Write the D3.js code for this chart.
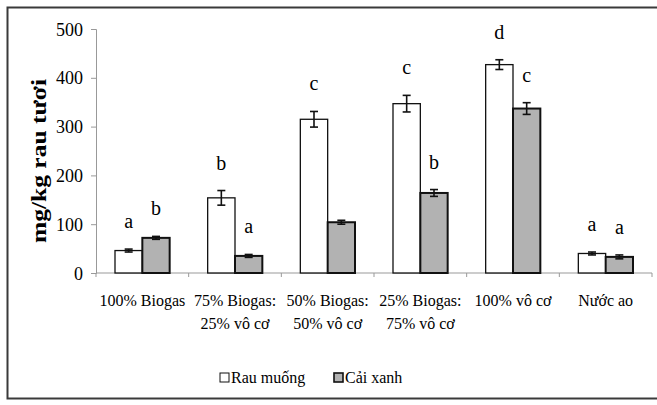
<!DOCTYPE html>
<html>
<head>
<meta charset="utf-8">
<script src="https://cdn.jsdelivr.net/npm/d3@7"></script>
<style>
  body { margin: 0; background: #fff; }
  svg text { font-family: "Liberation Serif", "Times New Roman", serif; fill: #000; }
</style>
</head>
<body>
<div id="chart"></div>
<script>
const categories = [
  ["100% Biogas"],
  ["75% Biogas:", "25% vô cơ"],
  ["50% Biogas:", "50% vô cơ"],
  ["25% Biogas:", "75% vô cơ"],
  ["100% vô cơ"],
  ["Nước ao"]
];
const series = ["Rau muống", "Cải xanh"];
const rauMuong = [46, 154, 315, 347, 427, 40];
const rauMuongErr = [3, 15, 16, 17, 10, 3];
const caiXanh = [72, 35, 104, 164, 337, 33];
const caiXanhErr = [3, 3, 4, 7, 12, 4];
const rauMuongLetters = ["a", "b", "c", "c", "d", "a"];
const caiXanhLetters = ["b", "a", "", "b", "c", "a"];
const yTicks = [0, 100, 200, 300, 400, 500];

const width = 657;
const height = 405;
const svg = d3.select("#chart")
  .append("svg")
  .attr("width", width)
  .attr("height", height)
  .attr("font-family", "Liberation Serif, serif");

// outer frame of the scanned figure
svg.append("rect")
  .attr("x", 7.5).attr("y", 7.5)
  .attr("width", 670).attr("height", 391)
  .attr("fill", "none")
  .attr("stroke", "#3a3a3a")
  .attr("stroke-width", 2);

const margin = { left: 96, right: 5, top: 29, bottom: 132 };
const x = d3.scaleBand()
  .domain(d3.range(categories.length))
  .range([margin.left, width - margin.right]);
const xSub = d3.scaleBand()
  .domain(series)
  .range([19, x.bandwidth() - 19]);
const y = d3.scaleLinear()
  .domain([0, 500])
  .range([height - margin.bottom, margin.top]);

const rows = categories.map((c, i) => [
  { s: series[0], i, v: rauMuong[i], e: rauMuongErr[i], l: rauMuongLetters[i], fill: "#fff" },
  { s: series[1], i, v: caiXanh[i], e: caiXanhErr[i], l: caiXanhLetters[i], fill: "#b2b2b2" }
]).flat();

// y axis
const yAxis = svg.append("g")
  .attr("transform", `translate(${margin.left},0)`)
  .call(d3.axisLeft(y).tickValues(yTicks).tickSize(5).tickPadding(8));
yAxis.attr("font-family", null);
yAxis.select(".domain").attr("stroke", "#999");
yAxis.selectAll(".tick line").attr("stroke", "#999");
yAxis.selectAll(".tick text")
  .attr("font-size", 18)
  .attr("dy", "0.34em");

// x axis line with ticks between categories
const xAxisG = svg.append("g");
xAxisG.append("line")
  .attr("x1", margin.left).attr("x2", width - margin.right)
  .attr("y1", y(0)).attr("y2", y(0))
  .attr("stroke", "#999");
xAxisG.selectAll(".xt")
  .data(d3.range(categories.length + 1))
  .join("line")
  .attr("class", "xt")
  .attr("x1", d => margin.left + d * x.step())
  .attr("x2", d => margin.left + d * x.step())
  .attr("y1", y(0)).attr("y2", y(0) + 4)
  .attr("stroke", "#999");

// category labels
const lab = svg.append("g").selectAll("text")
  .data(categories)
  .join("text")
  .attr("text-anchor", "middle")
  .attr("font-size", 16)
  .attr("x", (d, i) => x(i) + x.bandwidth() / 2)
  .attr("y", y(0) + 33);
lab.selectAll("tspan")
  .data(d => d)
  .join("tspan")
  .attr("x", function () { return d3.select(this.parentNode).attr("x"); })
  .attr("dy", (d, j) => j === 0 ? 0 : 23)
  .text(d => d);

// bars
const g = svg.append("g");
g.selectAll("rect")
  .data(rows)
  .join("rect")
  .attr("x", d => x(d.i) + xSub(d.s))
  .attr("y", d => y(d.v))
  .attr("width", xSub.bandwidth())
  .attr("height", d => y(0) - y(d.v))
  .attr("fill", d => d.fill)
  .attr("stroke", "#111")
  .attr("stroke-width", d => d.s === series[1] ? 2 : 1.3);

// error bars
const eb = g.selectAll(".err")
  .data(rows)
  .join("g")
  .attr("class", "err")
  .attr("stroke", "#111")
  .attr("stroke-width", 1.6);
const cx = d => x(d.i) + xSub(d.s) + xSub.bandwidth() / 2;
eb.append("line")
  .attr("x1", cx).attr("x2", cx)
  .attr("y1", d => y(d.v + d.e)).attr("y2", d => y(d.v - d.e));
eb.append("line")
  .attr("x1", d => cx(d) - 4).attr("x2", d => cx(d) + 4)
  .attr("y1", d => y(d.v + d.e)).attr("y2", d => y(d.v + d.e));
eb.append("line")
  .attr("x1", d => cx(d) - 4).attr("x2", d => cx(d) + 4)
  .attr("y1", d => y(d.v - d.e)).attr("y2", d => y(d.v - d.e));

// significance letters
g.selectAll(".sig")
  .data(rows.filter(d => d.l))
  .join("text")
  .attr("class", "sig")
  .attr("text-anchor", "middle")
  .attr("font-size", 20)
  .attr("x", cx)
  .attr("y", d => y(d.v + d.e) - 21)
  .text(d => d.l);

// y axis title
svg.append("text")
  .attr("transform", `translate(46,${(y(0) + y(500)) / 2 + 10}) rotate(-90)`)
  .attr("text-anchor", "middle")
  .attr("font-size", 21)
  .attr("font-weight", "bold")
  .attr("textLength", 164)
  .attr("lengthAdjust", "spacingAndGlyphs")
  .text("mg/kg rau tươi");

// legend
const legend = svg.append("g").attr("transform", "translate(0,378)");
const legendX = [220, 334];
series.forEach((s, i) => {
  legend.append("rect")
    .attr("x", legendX[i]).attr("y", -5)
    .attr("width", 9).attr("height", 9)
    .attr("fill", i === 0 ? "#fff" : "#b2b2b2")
    .attr("stroke", "#111")
    .attr("stroke-width", i === 0 ? 1 : 1.6);
  legend.append("text")
    .attr("x", legendX[i] + 11).attr("y", 5)
    .attr("font-size", 16)
    .text(s);
});
</script>
</body>
</html>
